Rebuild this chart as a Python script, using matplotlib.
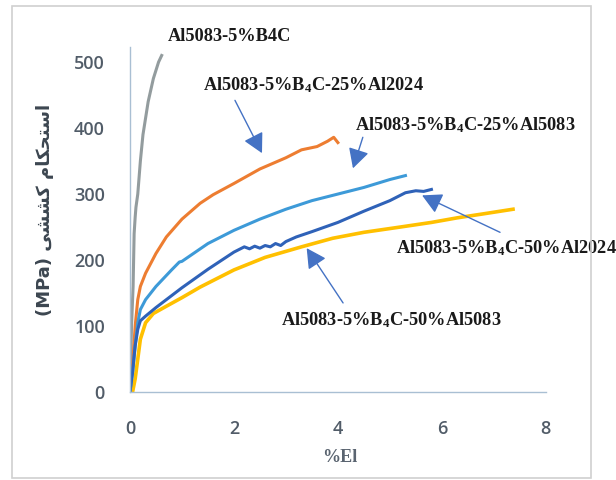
import matplotlib
matplotlib.use("Agg")
import matplotlib.pyplot as plt
from matplotlib.patches import Rectangle

plt.rcParams['mathtext.fontset'] = 'custom'
plt.rcParams['mathtext.rm'] = 'Liberation Serif:bold'
plt.rcParams['mathtext.bf'] = 'Liberation Serif:bold'
plt.rcParams['mathtext.it'] = 'Liberation Serif:bold'
plt.rcParams['mathtext.default'] = 'rm'

# ---- data (elongation %, stress MPa) ----
gray_x = [0, 0.03, 0.06, 0.08, 0.10, 0.115, 0.15, 0.2, 0.25, 0.35, 0.45, 0.55, 0.61]
gray_y = [0, 100, 160, 240, 265, 280, 300, 350, 390, 440, 475, 500, 510]

orange_x = [0, 0.05, 0.10, 0.15, 0.2, 0.3, 0.5, 0.7, 1.0, 1.35, 1.6, 2.0, 2.5, 3.0, 3.3, 3.6, 3.8, 3.92, 4.0]
orange_y = [0, 40, 100, 140, 160, 180, 210, 235, 262, 286, 299, 316, 338, 355, 367, 372, 380, 386, 378]

lblue_x = [0, 0.05, 0.1, 0.15, 0.2, 0.3, 0.5, 0.8, 0.95, 1.0, 1.5, 2.0, 2.5, 3.0, 3.5, 4.0, 4.5, 5.0, 5.3]
lblue_y = [0, 30, 70, 105, 125, 140, 160, 185, 197, 198, 225, 245, 262, 277, 290, 300, 310, 322, 328]

dblue_x = [0, 0.05, 0.1, 0.15, 0.2, 0.3, 0.5, 0.8, 1.0, 1.5, 2.0, 2.2, 2.3, 2.4, 2.5, 2.6, 2.7, 2.8, 2.9, 3.0, 3.2, 3.5, 4.0, 4.5, 5.0, 5.3, 5.5, 5.65, 5.8]
dblue_y = [0, 30, 70, 95, 108, 115, 128, 146, 158, 186, 212, 220, 217, 221, 218, 222, 220, 225, 222, 228, 235, 243, 257, 274, 290, 302, 305, 304, 307]

yellow_x = [0.05, 0.1, 0.15, 0.2, 0.3, 0.45, 0.7, 1.0, 1.35, 2.0, 2.6, 3.3, 3.9, 4.5, 5.2, 5.8, 6.3, 6.8, 7.37]
yellow_y = [0, 20, 50, 80, 105, 119, 130, 143, 159, 185, 204, 220, 233, 242, 250, 257, 264, 270, 277]

x_ticks = [0, 2, 4, 6, 8]
y_ticks = [0, 100, 200, 300, 400, 500]

labels = ["Al5083-5%B4C",
          r"Al5083-5%B$_4$C-25%Al2024",
          r"Al5083-5%B$_4$C-25%Al5083",
          r"Al5083-5%B$_4$C-50%Al2024",
          r"Al5083-5%B$_4$C-50%Al5083"]

fig = plt.figure(figsize=(6.16, 4.8), dpi=100)
fig.patch.set_facecolor('white')
fig.add_artist(Rectangle((0.0195, 0.004), 0.94, 0.983, transform=fig.transFigure,
                         fill=False, edgecolor='#d0d0d0', lw=1.2))

ax = fig.add_axes([0.211, 0.1833, 0.675, 0.719])
lw = 2.2
ax.plot(gray_x, gray_y, color='#939c9e', lw=lw)
ax.plot(orange_x, orange_y, color='#ED7D31', lw=lw)
ax.plot(yellow_x, yellow_y, color='#FFC000', lw=lw + 0.4)
ax.plot(lblue_x, lblue_y, color='#3d9ad8', lw=lw)
ax.plot(dblue_x, dblue_y, color='#2f62b8', lw=lw)

ax.set_xlim(0, 8)
ax.set_ylim(0, 523)
ax.set_xticks(x_ticks)
ax.set_yticks(y_ticks)
for s in ['top', 'right']:
    ax.spines[s].set_visible(False)
for s in ['left', 'bottom']:
    ax.spines[s].set_color('#a9bfd3')
    ax.spines[s].set_linewidth(1.0)
ax.tick_params(axis='both', length=0, labelsize=13, labelcolor='#515c68')
ax.tick_params(axis='y', pad=18)
ax.tick_params(axis='x', pad=20)
for t in ax.get_xticklabels() + ax.get_yticklabels():
    t.set_fontfamily('Open Sans')
    t.set_fontweight('semibold')

# y label (Persian + MPa), visual order with presentation forms
ylab = "(MPa) " + "\uFBFD\uFEB8\uFEB8\uFB90" + " " + "\uFEE1\uFE8E\uFB91\uFEA4\uFE98\uFEB3\uFE8D"
fig.text(45 / 616, 1 - 210 / 480, ylab, rotation=90, ha='center', va='center',
         fontsize=13, fontweight='bold', color='#3c4650', family=['DejaVu Sans'])
fig.text(340 / 616, 1 - 458 / 480, "%El", ha='center', va='center', fontsize=13,
         fontweight='bold', color='#5a6470', family='Liberation Serif')

tkw = dict(fontsize=13.2, fontweight='bold', family='Liberation Serif', color='#1a1a1a',
           ha='left', va='center', annotation_clip=False)
akw = dict(arrowstyle='-|>,head_length=0.6,head_width=0.32', color='#4472C4', lw=1.0,
           mutation_scale=20, shrinkA=0, shrinkB=0)

ax.annotate(labels[0], xy=(0.73, 538), **tkw)
ax.annotate(labels[1], xy=(1.40, 465), **tkw)
ax.annotate(labels[2], xy=(4.33, 405), **tkw)
ax.annotate(labels[3], xy=(5.12, 218), **tkw)
ax.annotate(labels[4], xy=(2.90, 109), **tkw)

ax.annotate("", xy=(2.54, 362), xytext=(2.02, 442), arrowprops=akw)
ax.annotate("", xy=(4.29, 339), xytext=(4.48, 386), arrowprops=akw)
ax.annotate("", xy=(5.62, 298), xytext=(7.12, 242), arrowprops=akw)
ax.annotate("", xy=(3.40, 218), xytext=(4.10, 135), arrowprops=akw)

fig.savefig("out.png", dpi=100, facecolor='white')
